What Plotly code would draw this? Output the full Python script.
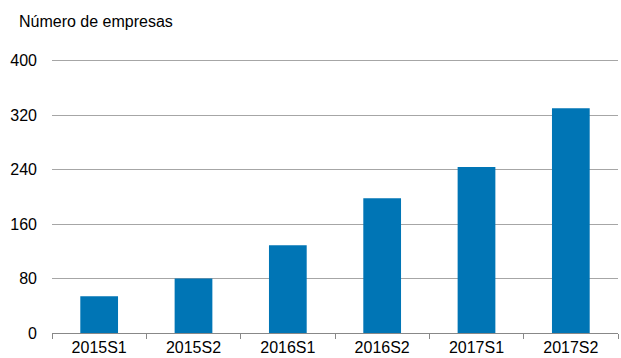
import plotly.graph_objs as go

periods = ["2015S1", "2015S2", "2016S1", "2016S2", "2017S1", "2017S2"]
num_companies = [54, 80, 129, 198, 244, 330]
y_ticks = [0, 80, 160, 240, 320, 400]

fig = go.Figure(
    data=[
        go.Bar(
            x=periods,
            y=num_companies,
            marker=dict(color="#0075b5", line=dict(width=0)),
            width=0.4,
        )
    ]
)

fig.update_layout(
    width=621,
    height=358,
    margin=dict(l=52, r=3, t=58, b=25),
    paper_bgcolor="white",
    plot_bgcolor="white",
    font=dict(family="Liberation Sans, Arial, sans-serif", size=16, color="#000000"),
    showlegend=False,
    annotations=[
        dict(
            text="Número de empresas",
            xref="paper",
            yref="paper",
            x=-0.062,
            y=1.0,
            xanchor="left",
            yanchor="bottom",
            yshift=26,
            showarrow=False,
            font=dict(size=16),
        )
    ],
)

fig.update_xaxes(
    showgrid=False,
    showline=True,
    linecolor="#888888",
    linewidth=1,
    ticks="outside",
    tickson="boundaries",
    ticklen=5,
    tickcolor="#888888",
    tickfont=dict(size=16),
    automargin=False,
)

# range goes a little past 400 so the top gridline is drawn
fig.update_yaxes(
    range=[0, 404],
    tickvals=y_ticks,
    showgrid=True,
    gridcolor="#a6a6a6",
    gridwidth=1,
    zeroline=False,
    showline=False,
    ticklabelstandoff=14,
    tickfont=dict(size=16),
    automargin=False,
)

# drop the default page margin so the figure sits at the window corner
fig.write_html(
    "out.html",
    config={"displayModeBar": False},
    post_script="document.body.style.margin='0';document.body.style.overflow='hidden';",
)
